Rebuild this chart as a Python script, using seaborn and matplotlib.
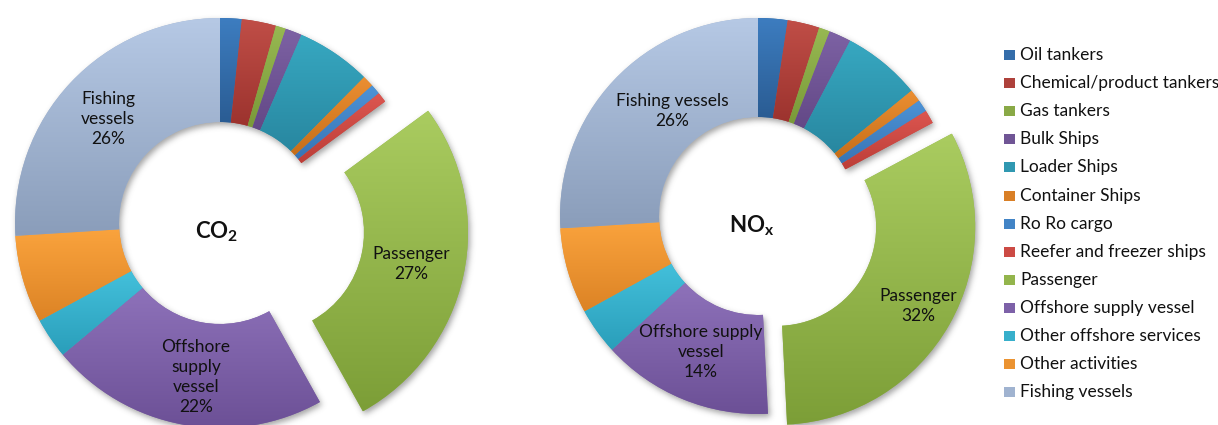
import numpy as np
import matplotlib
matplotlib.use("Agg")
import matplotlib.pyplot as plt
import seaborn as sns
from matplotlib.colors import to_rgb
from matplotlib.patches import Rectangle

# Ship categories, drawn clockwise from 12 o'clock
categories = [
    "Oil tankers", "Chemical/product tankers", "Gas tankers", "Bulk Ships",
    "Loader Ships", "Container Ships", "Ro Ro cargo", "Reefer and freezer ships",
    "Passenger", "Offshore supply vessel", "Other offshore services",
    "Other activities", "Fishing vessels",
]

# Share of emissions (%) per category
co2_share = [1.7, 2.7, 0.8, 1.3, 5.9, 0.9, 0.8, 0.8, 27, 22, 3.2, 6.9, 26]
nox_share = [2.4, 2.6, 0.9, 1.8, 6.4, 1.0, 1.0, 1.1, 32, 14, 3.8, 7.0, 26]

# Slice labels (text lines before the percentage)
co2_labels = {"Fishing vessels": ["Fishing", "vessels"],
              "Passenger": ["Passenger"],
              "Offshore supply vessel": ["Offshore", "supply", "vessel"]}
nox_labels = {"Fishing vessels": ["Fishing vessels"],
              "Passenger": ["Passenger"],
              "Offshore supply vessel": ["Offshore supply", "vessel"]}

# Gradient fills: light at the top of each slice, darker at the bottom
top_colors = ["#3D7DC0", "#C04E47", "#97B952", "#7D62A4", "#37A8C1", "#EB8F32",
              "#4D93D6", "#DC5650", "#AACC60", "#8E72BA", "#43C0DB", "#FAA33D",
              "#B6C9E5"]
bottom_colors = ["#2A5C93", "#9C332E", "#7A9939", "#634886", "#2887A0", "#C66E19",
                 "#3875B5", "#BC3E38", "#7C9E37", "#6C5096", "#2A9EBA", "#DC8325",
                 "#8A9DBA"]
mid_colors = [tuple((np.array(to_rgb(t)) + np.array(to_rgb(b))) / 2)
              for t, b in zip(top_colors, bottom_colors)]

sns.set_theme(style="white")
plt.rcParams["font.family"] = ["Lato", "DejaVu Sans"]
plt.rcParams["mathtext.fontset"] = "custom"
plt.rcParams["mathtext.rm"] = "Lato"
plt.rcParams["mathtext.bf"] = "Lato:bold"

W, H = 1218, 425
fig = plt.figure(figsize=(W / 100, H / 100), dpi=100)
ax = fig.add_axes([0, 0, 1, 1])


def shade(wedge, top, bottom):
    ext = wedge.get_path().get_extents()
    t = np.linspace(0, 1, 256)[:, None, None]
    img = (1 - t) * np.array(to_rgb(top)) + t * np.array(to_rgb(bottom))
    im = ax.imshow(img, extent=(ext.x0, ext.x1, ext.y0, ext.y1), origin="upper",
                   aspect="auto", interpolation="bilinear", zorder=3)
    im.set_clip_path(wedge)


def blur(a, sigma):
    k = np.arange(-3 * sigma, 3 * sigma + 1)
    g = np.exp(-k ** 2 / (2.0 * sigma ** 2))
    g /= g.sum()
    a = np.apply_along_axis(lambda r: np.convolve(r, g, mode="same"), 1, a)
    a = np.apply_along_axis(lambda c: np.convolve(c, g, mode="same"), 0, a)
    return a


def draw_donut(values, center, radius, hole, pop, labels, label_pos, title, title_pos):
    explode = [pop if c == "Passenger" else 0 for c in categories]
    wedges, _ = ax.pie(values, radius=radius, center=center, startangle=90,
                       counterclock=False, explode=explode, colors=mid_colors,
                       wedgeprops=dict(width=radius - hole, linewidth=0),
                       frame=True)
    for w, t, b in zip(wedges, top_colors, bottom_colors):
        w.set_zorder(2)
        shade(w, t, b)
    total = sum(values)
    for cat, lines in labels.items():
        v = values[categories.index(cat)]
        txt = "\n".join(lines + [f"{round(100 * v / total)}%"])
        x, y = label_pos[cat]
        ax.text(x, H - y, txt, ha="center", va="center", fontsize=12.5,
                color="#111111", linespacing=1.3, zorder=5)
    ax.text(title_pos[0], H - title_pos[1], title, ha="center", va="center",
            fontsize=16, color="#111111", zorder=5)
    return wedges


co2_wedges = draw_donut(
    co2_share, (220, H - 223), 205, 101, 44, co2_labels,
    {"Fishing vessels": (108, 119), "Passenger": (411, 264),
     "Offshore supply vessel": (196, 377)},
    r"$\mathbf{CO_2}$", (217, 232))
nox_wedges = draw_donut(
    nox_share, (758, H - 216), 198, 99, 22, nox_labels,
    {"Fishing vessels": (672, 111), "Passenger": (918, 306),
     "Offshore supply vessel": (701, 352)},
    r"$\mathbf{NO_x}$", (752, 226))

# Soft drop shadow under both rings
xs = np.arange(W) + 0.5
ys = H - (np.arange(H) + 0.5)
gx, gy = np.meshgrid(xs, ys)
pts = np.column_stack([gx.ravel(), gy.ravel()])
mask = np.zeros(W * H)
for w in list(co2_wedges) + list(nox_wedges):
    mask = np.maximum(mask, w.get_path().contains_points(pts).astype(float))
mask = blur(mask.reshape(H, W), 3)
shadow = np.zeros((H, W, 4))
shadow[..., :3] = 0.35
shadow[..., 3] = 0.55 * mask
dx, dy = 2, 3
ax.imshow(shadow, extent=(dx, W + dx, -dy, H - dy), origin="upper",
          aspect="auto", interpolation="bilinear", zorder=1)

# Legend
for i, (cat, col) in enumerate(zip(categories, mid_colors)):
    yc = H - (55 + i * 28.1)
    ax.add_patch(Rectangle((1004, yc - 5), 11, 10, facecolor=col,
                           edgecolor="none", zorder=5))
    ax.text(1020, yc, cat, ha="left", va="center", fontsize=12.5,
            color="#111111", zorder=5)

ax.set_xlim(0, W)
ax.set_ylim(0, H)
ax.set_aspect("auto")
ax.axis("off")
fig.savefig("out.png", dpi=100)
